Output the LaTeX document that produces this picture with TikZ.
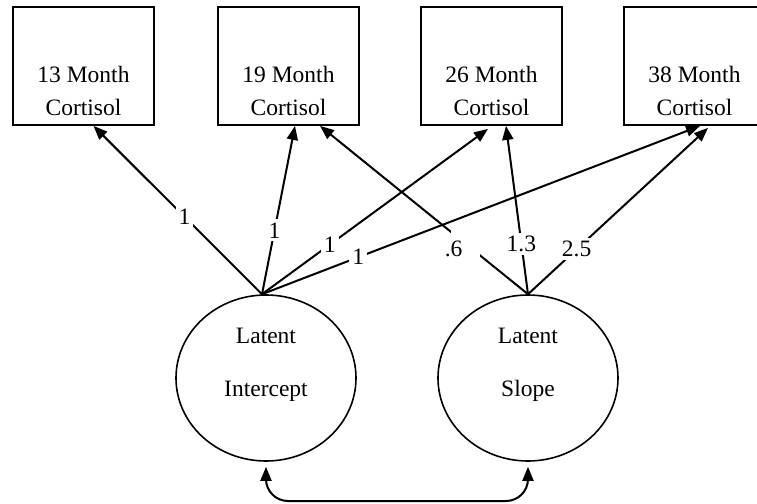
\documentclass[tikz,border=0pt]{standalone}
\usepackage{fontspec}
\setmainfont{Liberation Serif}
\usetikzlibrary{arrows.meta, calc, shapes.geometric}

\begin{document}
\begin{tikzpicture}[x=0.5pt, y=-0.5pt,
        font=\fontsize{11.75}{16.5}\selectfont,
        box/.style={draw, line width=0.9pt, minimum width=70.5pt, minimum height=59pt, inner sep=0pt},
        boxtext/.style={align=center, inner sep=0pt},
        latent/.style={draw, ellipse, line width=0.8pt, minimum width=90pt, minimum height=83pt, inner sep=0pt},
        loading/.style={line width=1pt, -{Triangle[length=7pt, width=5.5pt]}},
        coef/.style={fill=white, inner sep=1.5pt}]
        \clip (0, 0) rectangle (757, 504);

        % observed measures
        \node[box] (c13) at (83.5, 66) {};
        \node[box] (c19) at (288.5, 66) {};
        \node[box] (c26) at (491.5, 66) {};
        \node[box] (c38) at (694.5, 66) {};
        \node[boxtext] (t13) at ([yshift=-12.5pt]c13.center) {13 Month\\Cortisol};
        \node[boxtext] (t19) at ([yshift=-12.5pt]c19.center) {19 Month\\Cortisol};
        \node[boxtext] (t26) at ([yshift=-12.5pt]c26.center) {26 Month\\Cortisol};
        \node[boxtext] (t38) at ([yshift=-12.5pt]c38.center) {38 Month\\Cortisol};

        % growth factors
        \node[latent] (lint) at (266, 378) {};
        \node[latent] (lslope) at (528, 378) {};
        \node[boxtext, font=\fontsize{11.75}{26.5}\selectfont] (tint) at ([yshift=6.5pt]lint.center) {Latent\\Intercept};
        \node[boxtext, font=\fontsize{11.75}{26.5}\selectfont] (tslope) at ([yshift=6.5pt]lslope.center) {Latent\\Slope};

        \begin{scope}
            \draw[loading] ([xshift=-2pt]lint.north) -- node[coef, pos=0.46] {1} ([xshift=5pt]c13.south);
            \draw[loading] ([xshift=-2pt]lint.north) -- node[coef, pos=0.38] {1} ([xshift=3.25pt]c19.south);
            \draw[loading] ([xshift=-2pt]lint.north) -- node[coef, pos=0.3] {1} ([xshift=-1.75pt, yshift=-1.5pt]c26.south);
            \draw[loading] ([xshift=-2pt]lint.north) -- node[coef, pos=0.22] {1} ([xshift=2.75pt]c38.south);
            \draw[loading] (lslope.north) -- node[coef, pos=0.3, inner sep=3pt] (p6) {\phantom{.6}} ([xshift=15.75pt]c19.south);
            \node[inner sep=0pt] (l6) at ([xshift=-6pt, yshift=-2.5pt]p6.center) {.6};
            \draw[loading] (lslope.north) -- node[coef, pos=0.3] {1.3} ([xshift=7.25pt]c26.south);
            \draw[loading] (lslope.north) -- node[coef, pos=0.27] {2.5} ([xshift=6.75pt, yshift=-1pt]c38.south);
        \end{scope}

        % covariance
        \coordinate (base) at (0, 501);
        \draw[line width=1pt, {Triangle[length=7pt, width=5.5pt]}-{Triangle[length=7pt, width=5.5pt]}, rounded corners=11pt]
            ([yshift=-2.5pt]lint.south) |- (base -| lslope.south) -- ([yshift=-2.5pt]lslope.south);
    \end{tikzpicture}
\end{document}
